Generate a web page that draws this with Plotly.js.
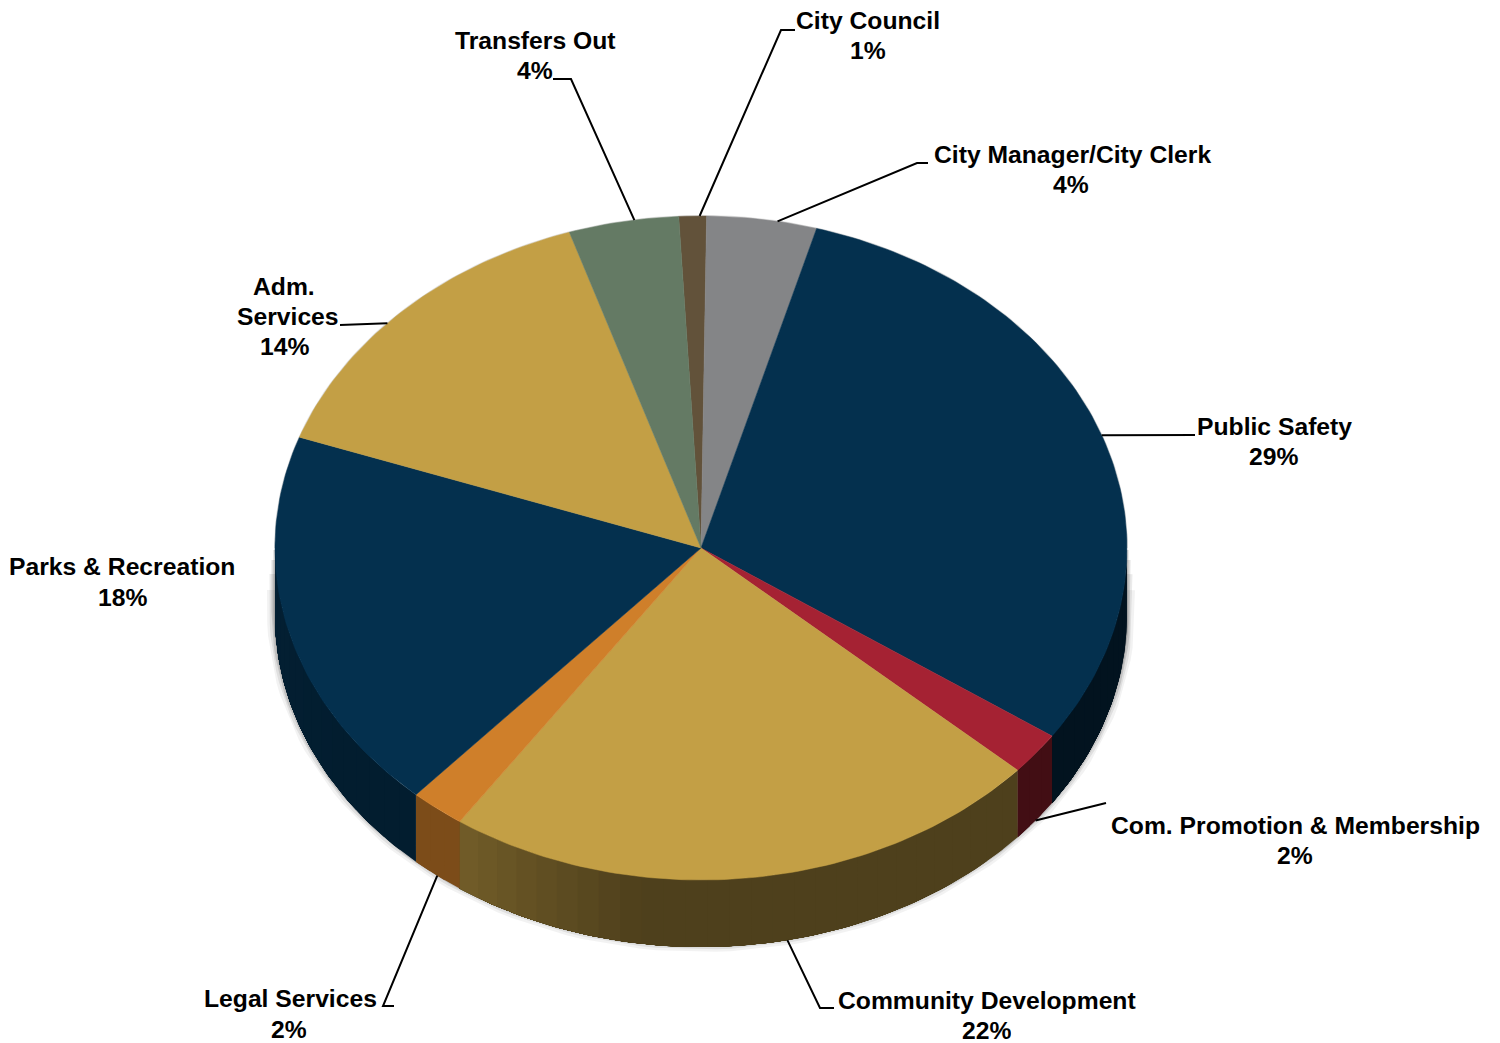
<!DOCTYPE html>
<html>
<head>
<meta charset="utf-8">
<title>Expenditures by Department</title>
<script src="https://cdn.plot.ly/plotly-3.0.1.min.js"></script>
<style>
  html, body { margin: 0; padding: 0; background: #fff; }
  #chart { width: 1500px; height: 1043px; }
</style>
</head>
<body>
<div id="chart"></div>
<script>
// Departments, clockwise from the top of the pie, and their stated shares in percent.
const categories = ['City Council', 'City Manager/City Clerk', 'Public Safety',
  'Com. Promotion & Membership', 'Community Development', 'Legal Services',
  'Parks & Recreation', 'Adm. Services', 'Transfers Out'];
const shares = [1, 4, 29, 2, 22, 2, 18, 14, 4];
const sliceColors = ['#62523a', '#848587', '#04304e', '#a52233', '#c39f45',
  '#cf7f2a', '#04304e', '#c39f45', '#647a64'];

// Pie geometry in axis units: an ellipse with a visible rim below it.
const CX = 701, CY = 548, RX = 426, RY = 332, DEPTH = 67;
const START_ANGLE = -3;
const total = shares.reduce((a, b) => a + b, 0);

const rad = d => d * Math.PI / 180;
const px = a => CX + RX * Math.sin(rad(a));
const py = (a, drop = 0) => CY - RY * Math.cos(rad(a)) + drop;

// Start and end angle of each slice, measured clockwise from the top.
const bounds = [];
let running = START_ANGLE;
shares.forEach(v => {
  const sweep = v / total * 360;
  bounds.push([running, running + sweep]);
  running += sweep;
});

function sampleAngles(a0, a1, step) {
  const n = Math.max(2, Math.ceil((a1 - a0) / step));
  return Array.from({ length: n + 1 }, (_, i) => a0 + (a1 - a0) * i / n);
}

// Rim brightness depends on where the rim faces: dark to the right, lighter to the left.
function rimShade(a) {
  if (a <= 188) return 0.40;
  if (a <= 214) return 0.40 + (a - 188) / 26 * 0.18;
  if (a <= 235) return 0.60;
  return 0.60 + Math.min(1, (a - 235) / 35) * 0.06;
}
function scaleColor(hex, k) {
  const c = [1, 3, 5].map(i => Math.round(parseInt(hex.substr(i, 2), 16) * k));
  return `rgb(${c[0]},${c[1]},${c[2]})`;
}

const traces = [];

// Soft shadow hugging the lower outline of the solid: wider at the sides than at the
// bottom, with the wider layers starting further down so it fades in along the sides.
const shadowAngles = sampleAngles(90, 270, 2);
[[16, 0.05, 42], [11, 0.08, 26], [7, 0.12, 12], [3, 0.18, 2]].forEach(([w, o, fadeIn]) => traces.push({
  type: 'scatter', mode: 'lines', hoverinfo: 'skip', showlegend: false,
  x: [px(90)].concat(shadowAngles.map(a => px(a))).concat([px(270)]),
  y: [CY + fadeIn].concat(shadowAngles.map(a => py(a, DEPTH - 3))).concat([CY + fadeIn]),
  line: { color: `rgba(0,0,0,${o})`, width: w }
}));

// Faint edge along the upper half.
const upperAngles = sampleAngles(-90, 90, 2);
traces.push({
  type: 'scatter', mode: 'lines', hoverinfo: 'skip', showlegend: false,
  x: upperAngles.map(a => px(a)), y: upperAngles.map(a => py(a)),
  line: { color: 'rgba(0,0,0,0.12)', width: 2 }
});

// Rim: shaded bands along the front half. Each band runs to the end of its slice
// and the next band paints over it, so no seams open between them.
bounds.forEach(([a0, a1], i) => {
  const from = Math.max(a0, 90), to = Math.min(a1, 270);
  if (to <= from) return;
  const edges = sampleAngles(from, to, 3);
  for (let k = 0; k < edges.length - 1; k++) {
    const arc = sampleAngles(edges[k], to, 1);
    const xs = arc.map(a => px(a)), ys = arc.map(a => py(a));
    const back = arc.slice().reverse();
    traces.push({
      type: 'scatter', mode: 'lines', fill: 'toself',
      fillcolor: scaleColor(sliceColors[i], rimShade((edges[k] + edges[k + 1]) / 2)),
      x: xs.concat(back.map(a => px(a))).concat([xs[0]]),
      y: ys.concat(back.map(a => py(a, DEPTH))).concat([ys[0]]),
      line: { width: 0 }, hoverinfo: 'skip', showlegend: false
    });
  }
});

// Top faces of the slices.
bounds.forEach(([a0, a1], i) => {
  const arc = sampleAngles(a0, a1, 1);
  traces.push({
    type: 'scatter', mode: 'lines', fill: 'toself', fillcolor: sliceColors[i],
    x: [CX].concat(arc.map(a => px(a))).concat([CX]),
    y: [CY].concat(arc.map(a => py(a))).concat([CY]),
    line: { color: sliceColors[i], width: 0.5 }, name: categories[i],
    text: `${categories[i]}: ${shares[i]}%`, hoverinfo: 'text', hoveron: 'fills', showlegend: false
  });
});

// Label text rows: row text, centre x, centre y.
const pct = i => `${shares[i]}%`;
const labelRows = [
  ['City Council', 868, 20], [pct(0), 868, 50],
  ['City Manager/City Clerk', 1072, 154], [pct(1), 1071, 184],
  ['Public Safety', 1274, 426], [pct(2), 1273, 456],
  ['Com. Promotion & Membership', 1295, 825], [pct(3), 1295, 855],
  ['Community Development', 987, 1000], [pct(4), 986, 1030],
  ['Legal Services', 290, 998], [pct(5), 289, 1029],
  ['Parks & Recreation', 122, 566], [pct(6), 122, 597],
  ['Adm.', 284, 286], ['Services', 288, 316], [pct(7), 284, 346],
  ['Transfers Out', 535, 40], [pct(8), 535, 70]
];

// Leader lines: slice index, position along the slice, whether it lands on the rim, fixed bend points.
const leaders = [
  [0, 0.75, false, [[795, 30], [781, 30]]],
  [1, 0.64, false, [[928, 163], [917, 163]]],
  [2, 0.50, false, [[1195, 435]]],
  [3, 0.50, true, [[1106, 803]]],
  [4, 0.44, true, [[834, 1008], [820, 1008]]],
  [5, 0.50, true, [[394, 1006], [383, 1006]]],
  [7, 0.44, false, [[340, 325]]],
  [8, 0.60, false, [[553, 79], [571, 79]]]
];
leaders.forEach(([i, frac, onRim, bends]) => {
  const a = bounds[i][0] + (bounds[i][1] - bounds[i][0]) * frac;
  traces.push({
    type: 'scatter', mode: 'lines', hoverinfo: 'skip', showlegend: false,
    x: bends.map(p => p[0]).concat([px(a)]),
    y: bends.map(p => p[1]).concat([py(a, onRim ? DEPTH : 0)]),
    line: { color: '#000', width: 2 }
  });
});

const layout = {
  width: 1500, height: 1043,
  margin: { l: 0, r: 0, t: 0, b: 0 },
  paper_bgcolor: '#fff', plot_bgcolor: '#fff',
  showlegend: false, hovermode: 'closest',
  xaxis: { range: [0, 1500], visible: false, fixedrange: true },
  yaxis: { range: [1043, 0], visible: false, fixedrange: true },
  annotations: labelRows.map(([text, x, y]) => Object.assign({
    text, x, y, xref: 'x', yref: 'y', showarrow: false,
    xanchor: 'center', yanchor: 'middle', borderpad: 0,
    font: { family: '"Liberation Sans", Arial, sans-serif', size: 24.7, color: '#000', weight: 700 }
  }, y > 1020 ? { height: 24 } : {})) // rows on the bottom edge keep a tight box so they stay inside the page
};

Plotly.newPlot('chart', traces, layout, { displayModeBar: false });
</script>
</body>
</html>
